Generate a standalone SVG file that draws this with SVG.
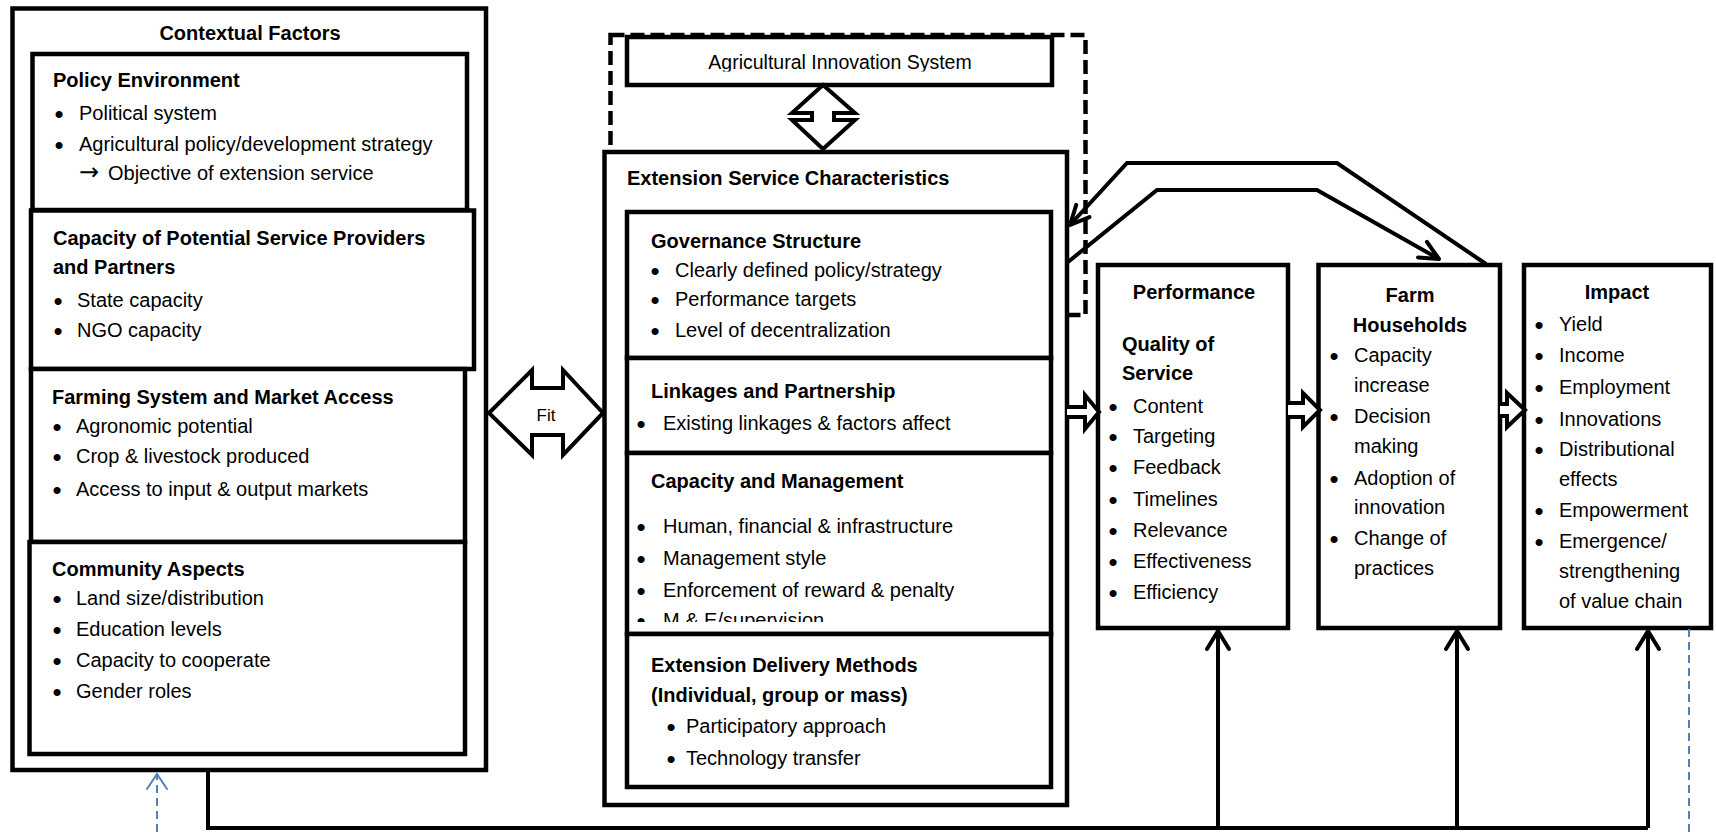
<svg xmlns="http://www.w3.org/2000/svg" width="1716" height="832" viewBox="0 0 1716 832">
<style>
.t{font-family:"Liberation Sans",Arial,Helvetica,sans-serif;font-size:20px;fill:#000}
.b{font-weight:bold}
.c{text-anchor:middle}
.bu{font-family:"Liberation Sans",Arial,Helvetica,sans-serif;font-size:26px;fill:#000;text-anchor:middle}
.box{fill:#fff;stroke:#000;stroke-width:4.5}
.ln{fill:none;stroke:#000;stroke-width:4;stroke-linejoin:miter}
.blk{fill:#fff;stroke:#000;stroke-width:4;stroke-linejoin:miter}
.blue{fill:none;stroke:#4f81bd;stroke-width:2;stroke-dasharray:8 5}
</style>
<defs>
<marker id="ah" markerUnits="userSpaceOnUse" viewBox="-24 -13 28 26" markerWidth="28" markerHeight="26" refX="0" refY="0" orient="auto">
<path d="M-19 -9 L0 0 L-19 9" fill="none" stroke="#000" stroke-width="4" stroke-linecap="round" stroke-linejoin="round"/>
</marker>
<marker id="av" markerUnits="userSpaceOnUse" viewBox="-24 -15 28 30" markerWidth="28" markerHeight="30" refX="0" refY="0" orient="auto">
<path d="M-18 -11 L0 0 L-18 11" fill="none" stroke="#000" stroke-width="4" stroke-linecap="round" stroke-linejoin="round"/>
</marker>
<marker id="ab" markerUnits="userSpaceOnUse" viewBox="-20 -13 24 26" markerWidth="24" markerHeight="26" refX="0" refY="0" orient="auto">
<path d="M-15 -10 L0 0 L-15 10" fill="none" stroke="#4f81bd" stroke-width="2" stroke-linecap="round"/>
</marker>
<clipPath id="clipCM"><rect x="627" y="453" width="424" height="169"/></clipPath>
<clipPath id="clipAIS"><rect x="627" y="37" width="425" height="34.5"/></clipPath>
<clipPath id="clipFit"><rect x="520" y="408" width="50" height="30"/></clipPath>
</defs>

<!-- Agricultural Innovation System dashed boundary -->
<g id="ais-boundary">
<rect x="610.5" y="35" width="475" height="280" fill="none" stroke="#000" stroke-width="4.5" stroke-dasharray="14 6"/>
</g>

<!-- Contextual Factors -->
<g id="contextual-factors">
<rect class="box" x="12.5" y="8.5" width="473.5" height="761.5"/>
<text class="t b c" x="250" y="40">Contextual Factors</text>
<g id="policy-environment">
<rect class="box" x="32.5" y="54" width="434.5" height="156"/>
<text class="t b" x="53" y="87">Policy Environment</text>
<text class="bu" x="59" y="122.5">•</text><text class="t" x="79" y="120">Political system</text>
<text class="bu" x="59" y="153.5">•</text><text class="t" x="79" y="151">Agricultural policy/development strategy</text>
<text class="t" x="79" y="180"><tspan style="font-family:'DejaVu Sans',sans-serif;font-size:24px">→</tspan><tspan x="108">Objective of extension service</tspan></text>
</g>
<g id="capacity-providers">
<rect class="box" x="31" y="210.5" width="443" height="158.5"/>
<text class="t b" x="53" y="245">Capacity of Potential Service Providers</text>
<text class="t b" x="53" y="274">and Partners</text>
<text class="bu" x="58" y="309.5">•</text><text class="t" x="77" y="307">State capacity</text>
<text class="bu" x="58" y="339.5">•</text><text class="t" x="77" y="337">NGO capacity</text>
</g>
<g id="farming-system">
<rect class="box" x="31" y="369" width="434" height="173"/>
<text class="t b" x="52" y="404">Farming System and Market Access</text>
<text class="bu" x="57" y="435.5">•</text><text class="t" x="76" y="433">Agronomic potential</text>
<text class="bu" x="57" y="465.5">•</text><text class="t" x="76" y="463">Crop &amp; livestock produced</text>
<text class="bu" x="57" y="498.5">•</text><text class="t" x="76" y="496">Access to input &amp; output markets</text>
</g>
<g id="community-aspects">
<rect class="box" x="29.5" y="542" width="435.5" height="212"/>
<text class="t b" x="52" y="576">Community Aspects</text>
<text class="bu" x="57" y="607.5">•</text><text class="t" x="76" y="605">Land size/distribution</text>
<text class="bu" x="57" y="638.5">•</text><text class="t" x="76" y="636">Education levels</text>
<text class="bu" x="57" y="669.5">•</text><text class="t" x="76" y="667">Capacity to cooperate</text>
<text class="bu" x="57" y="700.5">•</text><text class="t" x="76" y="698">Gender roles</text>
</g>
</g>

<!-- Agricultural Innovation System -->
<g id="agricultural-innovation-system">
<rect class="box" x="627" y="37" width="425" height="48"/>
<text class="t c" x="840" y="69" style="font-size:19.5px" clip-path="url(#clipAIS)">Agricultural Innovation System</text>
</g>

<!-- Extension Service Characteristics -->
<g id="extension-service">
<rect class="box" x="604.5" y="152" width="462.5" height="653"/>
<text class="t b" x="627" y="185">Extension Service Characteristics</text>
<g id="governance-structure">
<rect class="box" x="627" y="212" width="424" height="146"/>
<text class="t b" x="651" y="248">Governance Structure</text>
<text class="bu" x="655" y="279.5">•</text><text class="t" x="675" y="277">Clearly defined policy/strategy</text>
<text class="bu" x="655" y="308.5">•</text><text class="t" x="675" y="306">Performance targets</text>
<text class="bu" x="655" y="339.5">•</text><text class="t" x="675" y="337">Level of decentralization</text>
</g>
<g id="linkages-partnership">
<rect class="box" x="627" y="358" width="424" height="95"/>
<text class="t b" x="651" y="398">Linkages and Partnership</text>
<text class="bu" x="641" y="432.5">•</text><text class="t" x="663" y="430">Existing linkages &amp; factors affect</text>
</g>
<g id="capacity-management">
<rect class="box" x="627" y="453" width="424" height="181"/>
<text class="t b" x="651" y="488">Capacity and Management</text>
<text class="bu" x="641" y="535.5">•</text><text class="t" x="663" y="533">Human, financial &amp; infrastructure</text>
<text class="bu" x="641" y="567.5">•</text><text class="t" x="663" y="565">Management style</text>
<text class="bu" x="641" y="599.5">•</text><text class="t" x="663" y="597">Enforcement of reward &amp; penalty</text>
<g clip-path="url(#clipCM)"><text class="bu" x="641" y="629.5">•</text><text class="t" x="663" y="627">M &amp; E/supervision</text></g>
</g>
<g id="delivery-methods">
<rect class="box" x="627" y="634" width="424" height="153"/>
<text class="t b" x="651" y="672">Extension Delivery Methods</text>
<text class="t b" x="651" y="702">(Individual, group or mass)</text>
<text class="bu" x="671" y="735.5">•</text><text class="t" x="686" y="733">Participatory approach</text>
<text class="bu" x="671" y="767.5">•</text><text class="t" x="686" y="765">Technology transfer</text>
</g>
</g>

<!-- Performance -->
<g id="performance">
<rect class="box" x="1098" y="265" width="190" height="363"/>
<text class="t b c" x="1194" y="299">Performance</text>
<text class="t b" x="1122" y="351">Quality of</text>
<text class="t b" x="1122" y="380">Service</text>
<text class="bu" x="1113" y="415.5">•</text><text class="t" x="1133" y="413">Content</text>
<text class="bu" x="1113" y="445.5">•</text><text class="t" x="1133" y="443">Targeting</text>
<text class="bu" x="1113" y="476.5">•</text><text class="t" x="1133" y="474">Feedback</text>
<text class="bu" x="1113" y="508.5">•</text><text class="t" x="1133" y="506">Timelines</text>
<text class="bu" x="1113" y="539.5">•</text><text class="t" x="1133" y="537">Relevance</text>
<text class="bu" x="1113" y="570.5">•</text><text class="t" x="1133" y="568">Effectiveness</text>
<text class="bu" x="1113" y="601.5">•</text><text class="t" x="1133" y="599">Efficiency</text>
</g>

<!-- Farm Households -->
<g id="farm-households">
<rect class="box" x="1318.5" y="265" width="181.5" height="363"/>
<text class="t b c" x="1410" y="302">Farm</text>
<text class="t b c" x="1410" y="332">Households</text>
<text class="bu" x="1334" y="364.5">•</text><text class="t" x="1354" y="362">Capacity</text>
<text class="t" x="1354" y="392">increase</text>
<text class="bu" x="1334" y="425.5">•</text><text class="t" x="1354" y="423">Decision</text>
<text class="t" x="1354" y="453">making</text>
<text class="bu" x="1334" y="487.5">•</text><text class="t" x="1354" y="485">Adoption of</text>
<text class="t" x="1354" y="514">innovation</text>
<text class="bu" x="1334" y="547.5">•</text><text class="t" x="1354" y="545">Change of</text>
<text class="t" x="1354" y="575">practices</text>
</g>

<!-- Impact -->
<g id="impact">
<rect class="box" x="1524" y="265" width="187" height="363"/>
<text class="t b c" x="1617" y="299">Impact</text>
<text class="bu" x="1539" y="333.5">•</text><text class="t" x="1559" y="331">Yield</text>
<text class="bu" x="1539" y="364.5">•</text><text class="t" x="1559" y="362">Income</text>
<text class="bu" x="1539" y="396.5">•</text><text class="t" x="1559" y="394">Employment</text>
<text class="bu" x="1539" y="428.5">•</text><text class="t" x="1559" y="426">Innovations</text>
<text class="bu" x="1539" y="458.5">•</text><text class="t" x="1559" y="456">Distributional</text>
<text class="t" x="1559" y="486">effects</text>
<text class="bu" x="1539" y="519.5">•</text><text class="t" x="1559" y="517">Empowerment</text>
<text class="bu" x="1539" y="550.5">•</text><text class="t" x="1559" y="548">Emergence/</text>
<text class="t" x="1559" y="578">strengthening</text>
<text class="t" x="1559" y="608">of value chain</text>
</g>

<!-- Connectors -->
<g id="connectors">
<!-- Fit double arrow -->
<polygon class="blk" points="489,413 532,370 532,388 563,388 563,370 603,413 563,455 563,435 532,435 532,455"/>
<text class="t c" x="546" y="421" style="font-size:17px" clip-path="url(#clipFit)">Fit</text>
<!-- AIS <-> ESC double arrow -->
<polygon class="blk" points="823,85 855,113 834,113 834,120 855,120 823,149 792,120 812,120 812,113 792,113"/>
<!-- block arrows -->
<path class="blk" d="M1067 407 L1085 407 L1085 395 L1099 412 L1085 429 L1085 417 L1067 417"/>
<path class="blk" d="M1288 403 L1303 403 L1303 393 L1320 410 L1303 427 L1303 417 L1288 417"/>
<path class="blk" d="M1500 404 L1507 404 L1507 393 L1525 410 L1507 427 L1507 416 L1500 416"/>
<!-- feedback loops -->
<path class="ln" d="M1486 264 L1337 163 L1127 163 L1070 225" marker-end="url(#ah)"/>
<path class="ln" d="M1068 262 L1157 190 L1317 190 L1439 259" marker-end="url(#ah)"/>
<!-- bottom context line -->
<path class="ln" d="M208 770 L208 828 L1648 828"/>
<path class="ln" d="M1218 828 L1218 631" marker-end="url(#av)"/>
<path class="ln" d="M1457 828 L1457 631" marker-end="url(#av)"/>
<path class="ln" d="M1648 828 L1648 631" marker-end="url(#av)"/>
<!-- blue dashed -->
<path class="blue" d="M157 832 L157 774" marker-end="url(#ab)"/>
<path class="blue" d="M1689 629 L1689 832"/>
</g>
</svg>
